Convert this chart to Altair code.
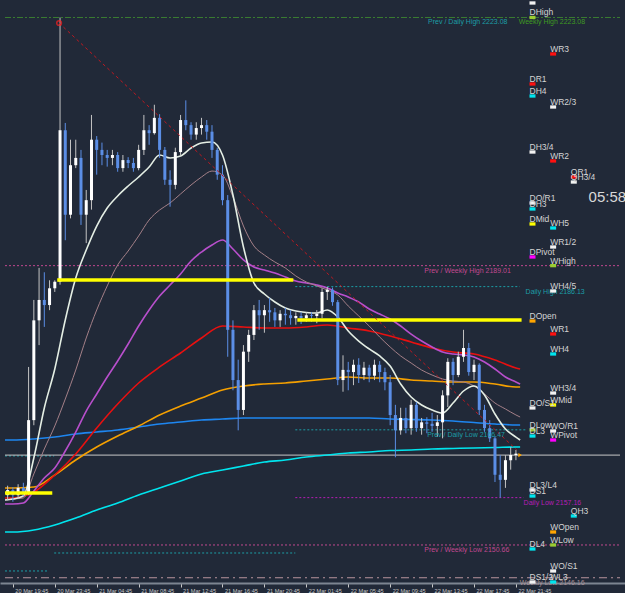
import altair as alt
import pandas as pd

BG = "#212938"

# ---------------- time axis (hours after 20 Mar 19:45) ----------------
tick_hours = [0, 4, 8, 12, 16, 20, 24, 28, 32, 36, 40, 44, 48]
tick_labels = ["20 Mar 19:45", "20 Mar 23:45", "21 Mar 04:45", "21 Mar 08:45",
               "21 Mar 12:45", "21 Mar 16:45", "21 Mar 20:45", "22 Mar 01:45",
               "22 Mar 05:45", "22 Mar 09:45", "22 Mar 13:45", "22 Mar 17:45",
               "22 Mar 21:45"]
X_MIN, X_MAX = -0.751, 57.93
Y_MIN, Y_MAX = 2145.44, 2225.48

# ---------------- candles (30 min) ----------------
first_open = 2157.5
candle_close = [2158.2, 2157.5, 2158.5, 2157.9, 2167.8, 2181.5, 2184.3, 2183.6, 2185.9, 2186.8,
                2207.6, 2196.0, 2202.8, 2203.8, 2196.0, 2198.0, 2206.3, 2204.9, 2204.2, 2203.8,
                2204.2, 2202.4, 2203.5, 2203.1, 2202.4, 2204.9, 2207.6, 2207.2, 2209.3, 2204.9,
                2200.8, 2200.1, 2204.6, 2209.0, 2208.3, 2207.0, 2207.9, 2208.3, 2207.4, 2204.9,
                2201.5, 2198.0, 2180.2, 2173.3, 2169.2, 2177.2, 2179.5, 2182.9, 2182.2, 2182.9,
                2182.6, 2181.5, 2182.4, 2182.2, 2181.8, 2182.1, 2181.8, 2182.2, 2182.1, 2182.4,
                2185.4, 2185.7, 2184.0, 2173.3, 2174.7, 2174.4, 2175.4, 2174.0, 2175.0, 2173.9,
                2175.4, 2174.4, 2173.0, 2168.5, 2166.4, 2168.1, 2166.7, 2169.9, 2166.7, 2167.5,
                2167.3, 2167.0, 2167.5, 2171.2, 2175.8, 2174.0, 2176.5, 2177.7, 2174.4, 2175.4,
                2169.2, 2166.7, 2165.3, 2160.3, 2159.6, 2162.3, 2163.0, 2163.2]
candle_high = [2158.8, 2158.6, 2159.0, 2159.2, 2175.1, 2184.3, 2188.7, 2188.1, 2187.0, 2187.0,
               2223.08, 2208.6, 2206.3, 2206.3, 2204.9, 2199.4, 2209.7, 2206.8, 2205.9, 2204.9,
               2204.9, 2204.6, 2204.2, 2203.9, 2203.8, 2205.6, 2209.7, 2208.3, 2211.1, 2209.8,
               2205.3, 2202.1, 2205.2, 2209.7, 2211.7, 2208.7, 2208.7, 2209.3, 2209.0, 2208.3,
               2205.2, 2202.8, 2198.7, 2181.5, 2176.1, 2178.1, 2180.2, 2183.6, 2184.3, 2183.6,
               2184.6, 2183.2, 2182.9, 2183.2, 2182.9, 2182.6, 2182.6, 2182.6, 2182.6, 2182.9,
               2185.9, 2186.1, 2186.0, 2184.3, 2176.7, 2175.8, 2176.1, 2176.3, 2175.8, 2175.4,
               2176.1, 2175.9, 2175.0, 2174.0, 2169.9, 2169.5, 2169.5, 2170.6, 2170.3, 2168.1,
               2168.2, 2168.8, 2168.5, 2171.9, 2176.3, 2176.3, 2177.2, 2180.2, 2178.4, 2176.1,
               2175.6, 2169.9, 2167.8, 2165.6, 2163.0, 2163.0, 2164.1, 2163.7]
candle_low = [2156.8, 2156.6, 2157.1, 2157.3, 2157.5, 2167.1, 2178.1, 2180.6, 2182.9, 2185.4,
              2186.4, 2192.5, 2195.5, 2202.4, 2194.6, 2192.1, 2196.7, 2201.5, 2202.8, 2202.6,
              2202.8, 2201.9, 2201.9, 2202.4, 2201.9, 2202.1, 2204.2, 2205.6, 2207.0, 2203.8,
              2200.1, 2197.1, 2199.5, 2204.2, 2207.6, 2206.3, 2206.3, 2207.0, 2206.3, 2203.8,
              2200.8, 2197.3, 2176.5, 2171.9, 2166.4, 2168.5, 2175.8, 2178.8, 2180.2, 2179.8,
              2181.3, 2180.6, 2180.6, 2180.9, 2180.9, 2180.9, 2181.0, 2181.3, 2181.3, 2181.1,
              2181.8, 2184.3, 2183.5, 2172.6, 2171.7, 2171.9, 2172.6, 2172.9, 2173.3, 2173.0,
              2173.3, 2173.0, 2171.9, 2167.1, 2162.7, 2165.8, 2166.0, 2165.8, 2166.2, 2165.8,
              2166.0, 2166.2, 2165.5, 2165.3, 2169.6, 2172.6, 2173.7, 2175.8, 2173.9, 2173.3,
              2168.5, 2166.2, 2164.8, 2159.3, 2157.16, 2158.5, 2161.0, 2162.3]
candle_hours = [0.5 * (i - 1) for i in range(len(candle_close))]

# ---------------- moving averages ----------------
ma_hours_fine = [-0.75] + list(range(0, 49)) + [48.4]
ma_hours_coarse = [-0.75] + list(range(0, 49, 2)) + [48.4]
ma_white = [2156.83, 2156.97, 2157.38, 2162.60, 2169.47, 2174.82, 2181.55, 2187.31, 2191.16, 2194.45,
            2196.92, 2198.57, 2199.94, 2201.18, 2202.55, 2204.20, 2203.79, 2204.06, 2205.16, 2205.85,
            2205.98, 2204.20, 2198.71, 2191.57, 2186.63, 2185.12, 2184.02, 2183.19, 2182.78, 2182.58,
            2182.51, 2182.92, 2181.96, 2180.04, 2178.66, 2177.57, 2176.61, 2175.23, 2172.76, 2170.98,
            2169.88, 2169.19, 2168.78, 2170.15, 2171.80, 2172.49, 2171.25, 2168.64, 2166.58, 2165.48,
            2165.07]
ma_rosy = [2156.83, 2156.97, 2157.11, 2160.41, 2163.84, 2167.00, 2170.70, 2174.68, 2179.08, 2182.92,
           2186.22, 2189.10, 2191.02, 2193.08, 2195.28, 2196.65, 2197.61, 2198.85, 2200.08, 2201.18,
           2202.00, 2201.45, 2198.43, 2194.45, 2191.71, 2190.47, 2189.51, 2188.69, 2187.59, 2186.77,
           2186.22, 2185.67, 2184.98, 2183.47, 2182.10, 2180.72, 2179.21, 2177.84, 2176.61, 2175.64,
           2174.68, 2173.99, 2173.45, 2173.17, 2173.03, 2172.49, 2171.39, 2170.15, 2169.33, 2168.51,
           2168.23]
ma_purple = [2156.29, 2156.29, 2156.42, 2158.07, 2159.86, 2161.23, 2163.56, 2166.17, 2169.05, 2171.39,
             2173.72, 2175.92, 2178.25, 2180.72, 2182.92, 2184.84, 2186.35, 2187.86, 2189.65, 2190.88,
             2191.84, 2192.53, 2191.30, 2189.79, 2188.82, 2188.41, 2188.00, 2187.45, 2186.90, 2186.63,
             2186.35, 2185.94, 2185.25, 2184.70, 2184.02, 2183.06, 2182.37, 2181.68, 2180.72, 2179.62,
             2178.66, 2177.84, 2177.15, 2176.88, 2176.74, 2176.47, 2175.78, 2174.82, 2173.72, 2173.03,
             2172.76]
ma_red = [2157.11, 2157.11, 2157.93, 2160.27, 2163.15, 2166.72, 2170.01, 2172.90, 2175.10, 2177.02,
          2179.08, 2180.72, 2180.59, 2180.45, 2180.45, 2180.59, 2180.86, 2180.45, 2180.04, 2179.35,
          2178.53, 2177.70, 2177.15, 2176.88, 2176.06, 2174.96, 2174.82]
ma_orange = [2158.48, 2158.48, 2158.62, 2160.27, 2162.33, 2164.11, 2165.62, 2167.00, 2168.51, 2169.74,
             2170.84, 2171.94, 2172.49, 2172.76, 2172.90, 2173.17, 2173.45, 2173.72, 2173.58, 2173.58,
             2173.31, 2173.17, 2173.03, 2173.03, 2172.76, 2172.35, 2172.35]
ma_blue = [2165.07, 2165.07, 2165.21, 2165.48, 2165.90, 2166.17, 2166.45, 2166.86, 2167.27, 2167.54,
           2167.82, 2167.95, 2168.09, 2168.09, 2168.09, 2168.09, 2168.09, 2168.09, 2168.09, 2167.95,
           2167.89, 2167.82, 2167.68, 2167.47, 2167.27, 2167.13, 2167.13]
ma_cyan = [2152.44, 2152.44, 2152.72, 2153.41, 2154.36, 2155.46, 2156.42, 2157.52, 2158.48, 2159.44,
           2160.41, 2160.95, 2161.50, 2162.05, 2162.33, 2162.74, 2163.01, 2163.29, 2163.43, 2163.63,
           2163.70, 2163.84, 2163.91, 2163.98, 2164.04, 2164.11, 2164.11]

# ---------------- price levels ----------------
daily_high = 2223.08
prev_weekly_high = 2189.01
today_high = 2186.13
prev_daily_low = 2166.47
today_low = 2157.16
prev_weekly_low = 2150.66
weekly_low = 2146.16
bid_price = 2163.0
old_level_a = 2162.88
old_level_b = 2149.56
old_level_c = 2147.09
box_top = 2187.04
box_mid = 2181.55
box_low = 2157.80
trend_start = (4.41, 2222.32)
trend_end = (48.08, 2163.70)

level_texts = ["Prev / Daily High 2223.08", "Weekly High 2223.08", "Prev / Weekly High 2189.01",
               "Daily High 2186.13", "Prev / Daily Low 2166.47", "Daily Low 2157.16",
               "Prev / Weekly Low 2150.66", "Weekly Low 2146.16"]
level_text_prices = [2223.08, 2223.08, 2189.01, 2186.13, 2166.47, 2157.16, 2150.66, 2146.16]
level_text_hours = [39.62, 48.26, 39.25, 48.92, 39.53, 48.73, 39.25, 48.36]
level_text_kinds = ["teal", "green", "pink", "teal", "teal", "magenta", "pink", "rosy"]

pivot_names = ["", "DHigh", "DR1", "DH4", "DH3/4", "DO/R1", "DH3", "DMid", "DPivot", "DOpen",
               "DO/S1", "DLow", "DL3", "DL3/L4", "DS1", "DL4", "DS1/2",
               "WR3", "WR2/3", "WR2", "WH5", "WR1/2", "WHigh", "WH4/5", "WR1", "WH4", "WH3/4",
               "WMid", "WO/R1", "WPivot", "WOpen", "WLow", "WO/S1", "WL3",
               "QR1", "QH3/4", "QH3"]
pivot_prices = [2225.07, 2223.08, 2213.95, 2212.30, 2204.61, 2197.61, 2196.79, 2194.73, 2190.20, 2181.41,
                2169.47, 2166.47, 2165.62, 2158.21, 2157.38, 2150.11, 2145.58,
                2218.07, 2210.79, 2203.38, 2194.18, 2191.57, 2189.01, 2185.53, 2179.63, 2176.88, 2171.52,
                2169.88, 2166.31, 2165.07, 2152.44, 2150.66, 2147.09, 2145.58,
                2201.18, 2200.49, 2154.64]
pivot_cols = ["D"] * 17 + ["W"] * 17 + ["Q"] * 3
pivot_kinds = ["half", "extreme", "R", "HL", "half", "half", "HL", "mid", "pivot", "open",
               "half", "extreme", "HL", "half", "HL", "HL", "half",
               "R", "half", "R", "HL", "half", "extreme", "half", "R", "HL", "half",
               "mid", "half", "pivot", "open", "extreme", "half", "HL",
               "R", "half", "HL"]
timer_text = "05:58"

# ---------------- styling ----------------
COL_HOURS = {"D": 49.58, "W": 51.55, "Q": 53.52}
KIND_COLORS = {"half": "#f2f2f2", "extreme": "#9acd32", "R": "#ff1010", "HL": "#00e5ee",
               "mid": "#ffff00", "pivot": "#ff00ff", "open": "#ffa500"}
TEXT_COLORS = {"teal": "#1c9ea6", "green": "#3f9a22", "pink": "#c0488f",
               "magenta": "#b51db5", "rosy": "#a89096"}
FONT = "Liberation Sans"

xscale = alt.Scale(domain=[X_MIN, X_MAX], nice=False, zero=False)
yscale = alt.Scale(domain=[Y_MIN, Y_MAX], nice=False, zero=False)
label_expr = "[" + ",".join("'%s'" % t for t in tick_labels) + "][round(datum.value / 4)]"
xaxis = alt.Axis(values=tick_hours, labelExpr=label_expr, title=None, grid=False,
                 domainColor="#7d8591", domainWidth=2, tickColor="#c8c8c8", tickSize=4,
                 tickWidth=1, labelColor="#c8c8c8", labelFontSize=5.6, labelFont=FONT,
                 labelAlign="left", labelBaseline="top", labelPadding=1, labelOffset=2,
                 labelFlush=False, labelOverlap=False, labelBound=False)


def X(field):
    return alt.X(field, type="quantitative", scale=xscale, axis=xaxis)


def Y(field):
    return alt.Y(field, type="quantitative", scale=yscale, axis=None)


def hseg(price, h0, h1, color, dash=None, width=1.0):
    df = pd.DataFrame({"h0": [h0], "h1": [h1], "p": [price]})
    kw = dict(color=color, strokeWidth=width)
    if dash:
        kw["strokeDash"] = dash
    return alt.Chart(df).mark_rule(**kw).encode(x=X("h0"), x2="h1", y=Y("p"))


def ma_layer(hours, values, color, width):
    df = pd.DataFrame({"h": hours, "p": values})
    return alt.Chart(df).mark_line(color=color, strokeWidth=width,
                                   interpolate="monotone").encode(x=X("h"), y=Y("p"))


layers = []
# level lines
layers.append(hseg(daily_high, X_MIN, X_MAX, "#3a7d32", [6, 2, 2, 2], 1))
layers.append(hseg(prev_weekly_high, X_MIN, X_MAX, "#c0488f", [2, 2], 1))
layers.append(hseg(prev_weekly_low, X_MIN, X_MAX, "#c0488f", [2, 2], 1))
layers.append(hseg(weekly_low, X_MIN, X_MAX, "#b8959c", [8, 4, 2, 4], 1))
layers.append(hseg(today_high, 26.95, 48.36, "#1c9ea6", [2, 2], 1))
layers.append(hseg(prev_daily_low, 26.95, 49.0, "#1c9ea6", [2, 2], 1))
layers.append(hseg(today_low, 26.95, 48.73, "#b51db5", [2, 2], 1))
layers.append(hseg(old_level_a, X_MIN, 3.94, "#1c9ea6", [2, 2], 1))
layers.append(hseg(old_level_b, 3.94, 26.95, "#1c9ea6", [2, 2], 1))
layers.append(hseg(old_level_c, X_MIN, 3.28, "#1c9ea6", [2, 2], 1))
layers.append(hseg(bid_price, X_MIN, X_MAX, "#c8c8c8", None, 1))

# moving averages
layers.append(ma_layer(ma_hours_coarse, ma_cyan, "#00e5ee", 1.6))
layers.append(ma_layer(ma_hours_coarse, ma_blue, "#1e86f0", 1.6))
layers.append(ma_layer(ma_hours_coarse, ma_orange, "#f5a000", 1.6))
layers.append(ma_layer(ma_hours_coarse, ma_red, "#e81010", 1.6))
layers.append(ma_layer(ma_hours_fine, ma_purple, "#b84fcc", 1.6))
layers.append(ma_layer(ma_hours_fine, ma_rosy, "#a48088", 1.0))
layers.append(ma_layer(ma_hours_fine, ma_white, "#e4eee4", 1.6))

# candles
opens = [first_open] + candle_close[:-1]
cdf = pd.DataFrame({"h": candle_hours, "o": opens, "c": candle_close,
                    "hi": candle_high, "lo": candle_low})
cdf["up"] = cdf["c"] >= cdf["o"]
up_df = cdf[cdf["up"]].drop(columns="up")
dn_df = cdf[~cdf["up"]].drop(columns="up")
for df, wick_col, body_col in [(dn_df, "#5b8ee6", "#5b8ee6"), (up_df, "#c4c4c4", "#ffffff")]:
    layers.append(alt.Chart(df).mark_rule(color=wick_col, strokeWidth=1).encode(
        x=X("h"), y=Y("lo"), y2="hi"))
    layers.append(alt.Chart(df).mark_bar(color=body_col, width=3).encode(
        x=X("h"), y=Y("o"), y2="c"))

# yellow boxes
layers.append(hseg(box_top, 4.23, 26.76, "#ffff00", None, 3.5))
layers.append(hseg(box_mid, 27.14, 48.54, "#ffff00", None, 3.5))
layers.append(hseg(box_low, X_MIN, 3.76, "#ffff00", None, 3.5))

# trend line
tdf = pd.DataFrame({"h0": [trend_start[0]], "p0": [trend_start[1]],
                    "h1": [trend_end[0]], "p1": [trend_end[1]]})
layers.append(alt.Chart(tdf).mark_rule(color="#c01820", strokeWidth=1, strokeDash=[3, 3]).encode(
    x=X("h0"), y=Y("p0"), x2="h1", y2="p1"))
layers.append(alt.Chart(tdf).mark_point(color="#ff2020", size=22, strokeWidth=1.5,
                                        filled=False).encode(x=X("h0"), y=Y("p0")))

# level labels
ldf = pd.DataFrame({"h": level_text_hours, "p": level_text_prices, "t": level_texts,
                    "col": [TEXT_COLORS[k] for k in level_text_kinds]})
layers.append(alt.Chart(ldf).mark_text(align="left", baseline="top", dy=1, fontSize=7,
                                       font=FONT).encode(
    x=X("h"), y=Y("p"), text="t:N", color=alt.Color("col:N", scale=None)))

# pivot markers
pdf = pd.DataFrame({"h": [COL_HOURS[c] for c in pivot_cols], "p": pivot_prices,
                    "t": pivot_names, "col": [KIND_COLORS[k] for k in pivot_kinds]})
layers.append(alt.Chart(pdf).mark_point(shape="M-1,-0.55L1,-0.55L1,0.55L-1,0.55Z", size=36,
                                        filled=True, opacity=1, strokeWidth=0).encode(
    x=X("h"), y=Y("p"), color=alt.Color("col:N", scale=None)))
layers.append(alt.Chart(pdf).mark_text(align="left", baseline="alphabetic", dx=-3, dy=-2,
                                       fontSize=8.5, font=FONT, color="#d4d4d4").encode(
    x=X("h"), y=Y("p"), text="t:N"))

# current price marker and timer
cur = pd.DataFrame({"h": [48.4], "p": [bid_price]})
layers.append(alt.Chart(cur).mark_point(shape="triangle-right", size=18, filled=True,
                                        color="#ffa500", opacity=1).encode(x=X("h"), y=Y("p")))
tdf2 = pd.DataFrame({"h": [54.93], "p": [2197.75], "t": [timer_text]})
layers.append(alt.Chart(tdf2).mark_text(align="left", baseline="alphabetic", fontSize=15,
                                        font=FONT, color="#d8d8d8").encode(
    x=X("h"), y=Y("p"), text="t:N"))

chart = alt.layer(*layers).properties(
    width=625, height=583, background=BG,
    padding={"left": 0, "top": 0, "right": 0, "bottom": 10},
    autosize=alt.AutoSizeParams(type="none"),
).configure_view(stroke=None)

chart.save("out.html", embed_options={"renderer": "svg", "actions": False})
